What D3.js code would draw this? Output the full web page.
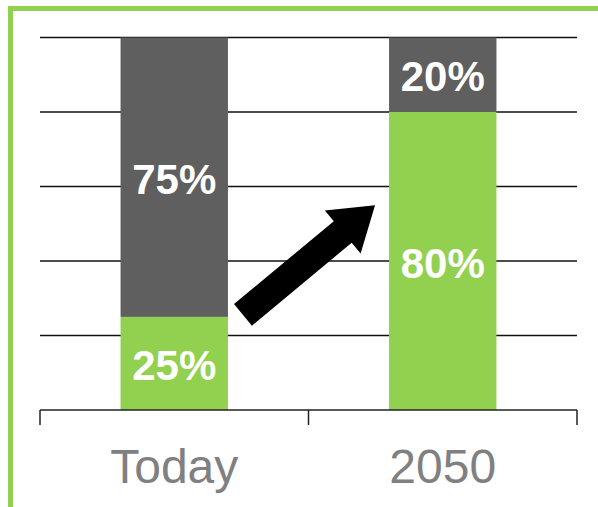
<!DOCTYPE html>
<html>
<head>
<meta charset="utf-8">
<script src="https://cdn.jsdelivr.net/npm/d3@7/dist/d3.min.js"></script>
<style>
  html, body { margin: 0; padding: 0; background: #fff; }
  svg { display: block; }
</style>
</head>
<body>
<div id="chart"></div>
<script>
// Share of energy by source: low-carbon (green) vs. other (grey)
const categories = ["Today", "2050"];
const greenShare = [25, 80];
const greyShare = [75, 20];
const yTicks = [0, 20, 40, 60, 80, 100];

const W = 598, H = 507;
const margin = { left: 40, right: 21, top: 37.5, bottom: 97 };
const GREEN = "#92d050", GREY = "#5f5f5f";

const svg = d3.select("#chart").append("svg")
  .attr("width", W).attr("height", H);

// Frame around the chart
svg.append("rect")
  .attr("x", 10.5).attr("y", 8.5)
  .attr("width", W + 20).attr("height", H + 20)
  .attr("fill", "none")
  .attr("stroke", GREEN)
  .attr("stroke-width", 5);

const x = d3.scaleBand()
  .domain(categories)
  .range([margin.left, W - margin.right])
  .paddingInner(0.6).paddingOuter(0.3);

const band = d3.scaleBand()
  .domain(categories)
  .range([margin.left, W - margin.right]);

const y = d3.scaleLinear()
  .domain([0, 100])
  .range([H - margin.bottom, margin.top]);

// Horizontal gridlines
svg.append("g")
  .selectAll("line")
  .data(yTicks.filter(d => d > 0))
  .join("line")
  .attr("x1", margin.left).attr("x2", W - margin.right)
  .attr("y1", d => y(d)).attr("y2", d => y(d))
  .attr("stroke", "#111")
  .attr("stroke-width", 1.5);

const rows = categories.map((c, i) => ({ c, g: greenShare[i], k: greyShare[i] }));

// Stacked bars
const bars = svg.append("g");
bars.selectAll("rect.g")
  .data(rows).join("rect")
  .attr("class", "g")
  .attr("x", d => x(d.c)).attr("width", x.bandwidth())
  .attr("y", d => y(d.g)).attr("height", d => y(0) - y(d.g))
  .attr("fill", GREEN);
bars.selectAll("rect.k")
  .data(rows).join("rect")
  .attr("class", "k")
  .attr("x", d => x(d.c)).attr("width", x.bandwidth())
  .attr("y", d => y(d.g + d.k)).attr("height", d => y(d.g) - y(d.g + d.k))
  .attr("fill", GREY);

// Value labels centred in each segment
const labelStyle = sel => sel
  .attr("text-anchor", "middle")
  .attr("dominant-baseline", "central")
  .attr("fill", "#fff")
  .attr("font-family", "Liberation Sans, Arial, sans-serif")
  .attr("font-weight", "bold")
  .attr("font-size", 42);
bars.selectAll("text.g")
  .data(rows).join("text")
  .attr("class", "g")
  .attr("x", d => x(d.c) + x.bandwidth() / 2)
  .attr("y", d => y(d.g / 2) + 2)
  .text(d => d.g + "%")
  .call(labelStyle);
bars.selectAll("text.k")
  .data(rows).join("text")
  .attr("class", "k")
  .attr("x", d => x(d.c) + x.bandwidth() / 2)
  .attr("y", d => y(d.g + d.k / 2) + 2)
  .text(d => d.k + "%")
  .call(labelStyle);

// X axis baseline with category separators
svg.append("line")
  .attr("x1", margin.left).attr("x2", W - margin.right)
  .attr("y1", y(0)).attr("y2", y(0))
  .attr("stroke", "#222").attr("stroke-width", 1.5);
const seps = [band(categories[0]), band(categories[1]), band(categories[1]) + band.bandwidth()];
svg.append("g").selectAll("line")
  .data(seps).join("line")
  .attr("x1", d => d).attr("x2", d => d)
  .attr("y1", y(0)).attr("y2", y(0) + 15)
  .attr("stroke", "#222").attr("stroke-width", 1.5);

// Category labels
svg.append("g").selectAll("text")
  .data(categories).join("text")
  .attr("x", d => band(d) + band.bandwidth() / 2)
  .attr("y", y(0) + 73)
  .attr("text-anchor", "middle")
  .attr("fill", "#808080")
  .attr("font-family", "Liberation Sans, Arial, sans-serif")
  .attr("font-size", 48)
  .text(d => d);

// Block arrow pointing from today's bar towards the 2050 bar
const x0 = x(categories[0]) + x.bandwidth() + 15, y0 = y(25) - 2;
const x1 = x(categories[1]) - 14, y1 = y(55);
const ang = Math.atan2(y1 - y0, x1 - x0);
const len = Math.hypot(x1 - x0, y1 - y0);
const shaftHalf = 14, headHalf = 28, headLen = 42;
const pts = [
  [0, -shaftHalf], [len - headLen, -shaftHalf], [len - headLen, -headHalf],
  [len, 0],
  [len - headLen, headHalf], [len - headLen, shaftHalf], [0, shaftHalf]
].map(([u, v]) => [
  x0 + u * Math.cos(ang) - v * Math.sin(ang),
  y0 + u * Math.sin(ang) + v * Math.cos(ang)
]);
svg.append("path")
  .attr("d", d3.line()(pts) + "Z")
  .attr("fill", "#000");
</script>
</body>
</html>
